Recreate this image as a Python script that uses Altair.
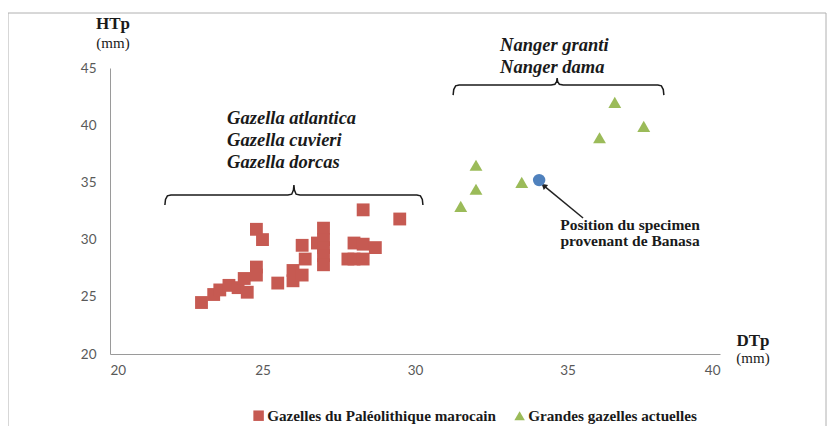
import altair as alt
import pandas as pd

# ---------------- data ----------------
series = ["Gazelles du Paléolithique marocain", "Grandes gazelles actuelles"]

sq_x = [23.0, 23.4, 23.6, 23.9, 24.2, 24.4, 24.5, 24.8, 24.8, 24.8, 25.0,
        25.5, 26.0, 26.0, 26.3, 26.3, 26.4, 26.8,
        27.0, 27.0, 27.0, 27.0, 27.0,
        27.8, 28.0, 28.3, 28.0, 28.3, 28.3, 28.7, 29.5]
sq_y = [24.5, 25.2, 25.6, 26.0, 25.8, 26.6, 25.4, 27.6, 26.9, 30.9, 30.0,
        26.2, 27.3, 26.4, 26.9, 29.5, 28.3, 29.7,
        31.0, 30.0, 29.3, 28.6, 27.8,
        28.3, 28.3, 28.3, 29.7, 29.6, 32.6, 29.3, 31.8]

tri_x = [31.5, 32.0, 32.0, 33.5, 36.05, 36.55, 37.5]
tri_y = [32.9, 34.4, 36.5, 35.0, 38.9, 42.0, 39.9]

spec_x = [34.07]
spec_y = [35.2]

x_ticks = [20, 25, 30, 35, 40]
y_ticks = [20, 25, 30, 35, 40, 45]

gazella_names = ["Gazella atlantica", "Gazella cuvieri", "Gazella dorcas"]
nanger_names = ["Nanger granti", "Nanger dama"]
specimen_lines = ["Position du specimen", "provenant de Banasa"]

# ---------------- layout ----------------
W, H = 610, 286
XD, YD = [20, 40], [20, 45]
PX = W / (XD[1] - XD[0])   # px per x unit
PY = H / (YD[1] - YD[0])   # px per y unit

xs = alt.Scale(domain=XD, nice=False, zero=False)
ys = alt.Scale(domain=YD, nice=False, zero=False)

xax = alt.Axis(values=x_ticks, title=None, grid=False, ticks=False,
               domainColor="#9a9a9a", domainWidth=1, labelFont="Lato",
               labelFontSize=13.5, labelColor="#595959", labelPadding=9)
yax = alt.Axis(values=y_ticks, title=None, grid=False, ticks=False,
               domainColor="#9a9a9a", domainWidth=1, labelFont="Lato",
               labelFontSize=13.5, labelColor="#595959", labelPadding=14)

X = lambda f="x": alt.X(f"{f}:Q", scale=xs, axis=xax)
Y = lambda f="y": alt.Y(f"{f}:Q", scale=ys, axis=yax)


def brace(x0, x1, xm, yline, hook_px, tip_px, seg):
    """points of a curly brace drawn in data units"""
    dx = lambda p: p / PX
    dy = lambda p: p / PY
    pts = [
        (x0, yline - dy(hook_px)),
        (x0 + dx(0.6), yline - dy(hook_px * 0.45)),
        (x0 + dx(2.5), yline - dy(0.8)),
        (x0 + dx(6), yline),
        (xm - dx(6), yline),
        (xm - dx(2.2), yline + dy(0.8)),
        (xm - dx(0.5), yline + dy(tip_px * 0.5)),
        (xm, yline + dy(tip_px)),
        (xm + dx(0.5), yline + dy(tip_px * 0.5)),
        (xm + dx(2.2), yline + dy(0.8)),
        (xm + dx(6), yline),
        (x1 - dx(6), yline),
        (x1 - dx(2.5), yline - dy(0.8)),
        (x1 - dx(0.6), yline - dy(hook_px * 0.45)),
        (x1, yline - dy(hook_px)),
    ]
    return pd.DataFrame({"x": [p[0] for p in pts], "y": [p[1] for p in pts],
                         "o": list(range(len(pts))), "b": seg})


braces = pd.concat([
    brace(21.8, 30.26, 26.03, 33.9, 10, 10, "left"),
    brace(31.25, 38.16, 34.66, 43.51, 10, 7, "right"),
])

pts = pd.DataFrame({
    "x": sq_x + tri_x,
    "y": sq_y + tri_y,
    "g": [series[0]] * len(sq_x) + [series[1]] * len(tri_x),
})

legend = alt.Legend(orient="none", legendX=141, legendY=340, direction="horizontal",
                    title=None, labelFont="Liberation Serif", labelFontWeight="bold",
                    labelFontSize=15.2, labelColor="#1a1a1a", labelLimit=400,
                    symbolSize=110, symbolStrokeWidth=0, labelOffset=1,
                    columnPadding=16, padding=0)

points = alt.Chart(pts).mark_point(filled=True, size=165, opacity=1).encode(
    x=X(), y=Y(),
    color=alt.Color("g:N", scale=alt.Scale(domain=series, range=["#C65A52", "#9BBB59"]),
                    legend=legend),
    shape=alt.Shape("g:N", scale=alt.Scale(domain=series, range=["square", "triangle-up"]),
                    legend=legend),
)

spec = alt.Chart(pd.DataFrame({"x": spec_x, "y": spec_y})).mark_point(
    filled=True, size=155, opacity=1, shape="circle", color="#4F81BD"
).encode(x=X(), y=Y())

brace_layer = alt.Chart(braces).mark_line(color="#1a1a1a", strokeWidth=1.5).encode(
    x=X(), y=Y(), detail="b:N", order="o:Q")

# arrow from the label to the specimen
arrow_df = pd.DataFrame({"x": [35.51, 34.22], "y": [31.89, 34.72], "o": [0, 1]})
arrow = alt.Chart(arrow_df).mark_line(color="#222222", strokeWidth=1.5).encode(
    x=X(), y=Y(), order="o:Q")
head = alt.Chart(arrow_df.iloc[[1]]).mark_point(
    shape="triangle-up", filled=True, size=45, angle=310, color="#222222", opacity=1
).encode(x=X(), y=Y())

# annotation texts
gaz_df = pd.DataFrame({"x": [23.84] * 3, "y": [40.63, 38.71, 36.78], "t": gazella_names})
nan_df = pd.DataFrame({"x": [32.79] * 2, "y": [47.01, 45.09], "t": nanger_names})
spe_df = pd.DataFrame({"x": [37.05] * 2, "y": [31.3, 29.85], "t": specimen_lines})

gaz_txt = alt.Chart(gaz_df).mark_text(
    font="Liberation Serif", fontSize=18.5, fontWeight="bold", fontStyle="italic",
    align="left", baseline="middle", color="#1a1a1a"
).encode(x=X(), y=Y(), text="t:N")
nan_txt = alt.Chart(nan_df).mark_text(
    font="Liberation Serif", fontSize=18.5, fontWeight="bold", fontStyle="italic",
    align="left", baseline="middle", color="#1a1a1a"
).encode(x=X(), y=Y(), text="t:N")
spe_txt = alt.Chart(spe_df).mark_text(
    font="Liberation Serif", fontSize=15.5, fontWeight="bold",
    align="center", baseline="middle", color="#1a1a1a"
).encode(x=X(), y=Y(), text="t:N")

one = pd.DataFrame({"a": [0]})


def label(txt, px, py, size, weight="normal"):
    return alt.Chart(one).mark_text(
        text=txt, font="Liberation Serif", fontSize=size, fontWeight=weight,
        align="center", baseline="middle", color="#1a1a1a"
    ).encode(x=alt.value(px), y=alt.value(py))


htp = label("HTp", 3, -44, 17, "bold")
htp_mm = label("(mm)", 3, -25, 15)
dtp = label("DTp", 643, 273, 17, "bold")
dtp_mm = label("(mm)", 643, 290, 15)

# chart-area frame
frame = alt.Chart(one).mark_rect(fill=None, stroke="#b0b0b0", strokeWidth=1).encode(
    x=alt.value(-102), x2=alt.value(716), y=alt.value(-55), y2=alt.value(362))

chart = alt.layer(
    frame, brace_layer, arrow, head, points, spec,
    gaz_txt, nan_txt, spe_txt, htp, htp_mm, dtp, dtp_mm
).properties(
    width=W, height=H,
    autosize=alt.AutoSizeParams(type="none"),
    padding={"left": 102, "top": 60, "right": 109, "bottom": 72},
    background="white",
).configure_view(stroke=None)

chart.save("out.html", embed_options={"renderer": "svg", "actions": False})
